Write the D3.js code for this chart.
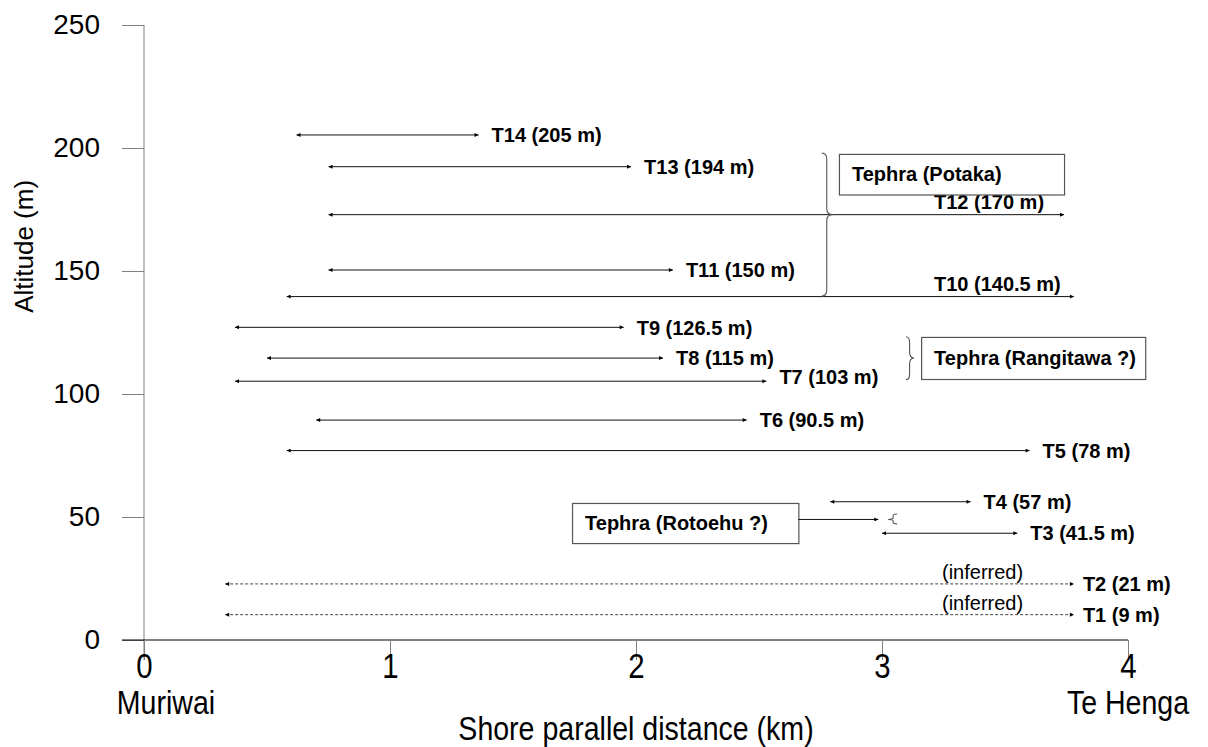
<!DOCTYPE html>
<html>
<head>
<meta charset="utf-8">
<script src="https://cdn.jsdelivr.net/npm/d3@7"></script>
<style>
  body { margin: 0; background: #fff; }
  svg { display: block; font-family: "Liberation Sans", Arial, sans-serif; }
</style>
</head>
<body>
<script>
// terraces, bottom to top
const terraces = ["T1", "T2", "T3", "T4", "T5", "T6", "T7", "T8", "T9", "T10", "T11", "T12", "T13", "T14"];
const altitudeText = ["9", "21", "41.5", "57", "78", "90.5", "103", "115", "126.5", "140.5", "150", "170", "194", "205"];
// altitude where each line is drawn (m)
const altitude = [10.3, 22.8, 43.4, 56.2, 77, 89.4, 105.2, 114.6, 127.1, 139.6, 150.4, 172.9, 192.4, 205.3];
const startKm = [0.33, 0.33, 3.0, 2.79, 0.58, 0.7, 0.37, 0.5, 0.37, 0.58, 0.75, 0.75, 0.75, 0.62];
const endKm = [3.78, 3.78, 3.55, 3.36, 3.6, 2.45, 2.53, 2.11, 1.95, 3.78, 2.15, 3.74, 1.98, 1.36];
const inferred = [true, true, false, false, false, false, false, false, false, false, false, false, false, false];

const xTicks = [0, 1, 2, 3, 4];
const yTicks = [0, 50, 100, 150, 200, 250];

const tephraNames = ["Tephra (Potaka)", "Tephra (Rangitawa ?)", "Tephra (Rotoehu ?)"];

const width = 1208, height = 747;
const x = d3.scaleLinear().domain([0, 4]).range([144, 1128]);
const y = d3.scaleLinear().domain([0, 250]).range([640, 25]);
const squeeze = 0.84; // x-axis texts are drawn narrow

const svg = d3.select("body").append("svg")
    .attr("width", width)
    .attr("height", height);

const defs = svg.append("defs");
["end", "start"].forEach(k => {
  defs.append("marker")
      .attr("id", "arrow-" + k)
      .attr("viewBox", "0 0 10 10")
      .attr("refX", 10).attr("refY", 5)
      .attr("markerUnits", "userSpaceOnUse")
      .attr("markerWidth", 5).attr("markerHeight", 4)
      .attr("orient", k === "end" ? "auto" : "auto-start-reverse")
    .append("path")
      .attr("d", "M0,0L10,5L0,10z")
      .attr("fill", "#000");
});

// axes
const yAxis = svg.append("g")
    .attr("transform", `translate(${x(0)},0)`)
    .call(d3.axisLeft(y).tickValues(yTicks).tickSize(22).tickPadding(22))
    .attr("font-family", null)
    .attr("font-size", 28);
yAxis.select(".domain").attr("stroke", "#808080").attr("d", `M0,${y(250)}V${y(0) + 20}`);
yAxis.selectAll(".tick line").attr("stroke", "#808080");
yAxis.selectAll(".tick text").attr("fill", "#000");

const xAxis = svg.append("g")
    .attr("transform", `translate(0,${y(0)})`)
    .call(d3.axisBottom(x).tickValues(xTicks).tickFormat(d3.format("d")).tickSize(20).tickPadding(0))
    .attr("font-family", null)
    .attr("font-size", 35);
xAxis.select(".domain").attr("stroke", "#000").attr("d", `M${x(0) - 22},0H${x(4)}`);
xAxis.selectAll(".tick line").attr("stroke", "#808080");
xAxis.selectAll(".tick text")
    .attr("fill", "#000")
    .attr("y", 38)
    .attr("dy", null)
    .attr("transform", `scale(${squeeze},1)`);

function narrowText(tx, ty, size, str) {
  svg.append("text")
      .attr("transform", `translate(${tx},${ty}) scale(${squeeze},1)`)
      .attr("text-anchor", "middle")
      .attr("font-size", size)
      .text(str);
}
narrowText(166, 714, 34, "Muriwai");
narrowText(x(4), 714, 34, "Te Henga");
narrowText(x(2), 740, 34, "Shore parallel distance (km)");

svg.append("text")
    .attr("transform", `translate(33,${y(160)}) rotate(-90)`)
    .attr("text-anchor", "middle")
    .attr("font-size", 26)
    .text("Altitude (m)");

// terrace lines
const rows = terraces.map((t, i) => ({
  name: t, label: `${t} (${altitudeText[i]} m)`, alt: altitude[i],
  x0: startKm[i], x1: endKm[i], inferred: inferred[i]
}));

svg.append("g")
  .selectAll("line")
  .data(rows)
  .join("line")
    .attr("x1", d => x(d.x0))
    .attr("x2", d => x(d.x1))
    .attr("y1", d => y(d.alt))
    .attr("y2", d => y(d.alt))
    .attr("stroke", d => d.inferred ? "#444" : "#111")
    .attr("stroke-width", 1)
    .attr("stroke-dasharray", d => d.inferred ? "3,2" : null)
    .attr("marker-start", "url(#arrow-start)")
    .attr("marker-end", "url(#arrow-end)");

// labels sit right of the arrow, except T10 and T12 which sit above it
const above = new Set(["T10", "T12"]);
svg.append("g")
    .attr("font-size", 20)
    .attr("font-weight", "bold")
  .selectAll("text")
  .data(rows)
  .join("text")
    .attr("x", d => above.has(d.name) ? 934 : x(d.x1) + (d.inferred ? 9 : 13))
    .attr("y", d => above.has(d.name) ? y(d.alt) - 6 : y(d.alt) - (d.name === "T7" ? 4 : 0))
    .attr("dy", d => above.has(d.name) ? 0 : "0.36em")
    .text(d => d.label);

svg.append("g")
    .attr("font-size", 20)
  .selectAll("text")
  .data(rows.filter(d => d.inferred))
  .join("text")
    .attr("x", 942)
    .attr("y", d => y(d.alt) - 5)
    .text("(inferred)");

// tephra boxes [x0 km, x1 km, top m, bottom m]
const boxes = [
  [2.825, 3.74, 197.6, 181.1],
  [3.159, 4.07, 123.2, 106.1],
  [1.74, 2.66, 55.7, 39.4]
];
const box = svg.append("g")
  .selectAll("g")
  .data(boxes)
  .join("g");
box.append("rect")
    .attr("x", d => x(d[0]) + 0.5)
    .attr("y", d => y(d[2]) + 0.5)
    .attr("width", d => x(d[1]) - x(d[0]))
    .attr("height", d => y(d[3]) - y(d[2]))
    .attr("fill", "#fff")
    .attr("stroke", "#555")
    .attr("stroke-width", 1.2);
box.append("text")
    .attr("x", d => x(d[0]) + 13)
    .attr("y", d => (y(d[2]) + y(d[3])) / 2)
    .attr("dy", "0.36em")
    .attr("font-size", 20)
    .attr("font-weight", "bold")
    .text((d, i) => tephraNames[i]);

// connector from the Rotoehu box
svg.append("line")
    .attr("x1", x(2.66)).attr("x2", x(2.985))
    .attr("y1", y(49)).attr("y2", y(49))
    .attr("stroke", "#111")
    .attr("stroke-width", 1)
    .attr("marker-end", "url(#arrow-end)");

// curly braces: tip at (tx, ty), spanning yTop..yBot, dir +1 points right
function brace(tx, ty, yTop, yBot, w, dir) {
  const xv = tx - dir * w * 0.55, xe = tx - dir * w;
  const r = Math.min(6, (yBot - yTop) / 6);
  return `M${xe},${yTop}Q${xv},${yTop} ${xv},${yTop + r}` +
         `L${xv},${ty - r}Q${xv},${ty} ${tx},${ty}` +
         `Q${xv},${ty} ${xv},${ty + r}` +
         `L${xv},${yBot - r}Q${xv},${yBot} ${xe},${yBot}`;
}
const braces = [
  [2.8, 172.9, 197.9, 139.8, 11, 1],
  [3.13, 114.6, 123.3, 105.8, 8, 1],
  [3.025, 49, 51.2, 47.2, 9, -1]
];
svg.append("g")
    .attr("fill", "none")
    .attr("stroke", "#555")
    .attr("stroke-width", 1.1)
  .selectAll("path")
  .data(braces)
  .join("path")
    .attr("d", d => brace(x(d[0]), y(d[1]), y(d[2]), y(d[3]), d[4], d[5]));
</script>
</body>
</html>
